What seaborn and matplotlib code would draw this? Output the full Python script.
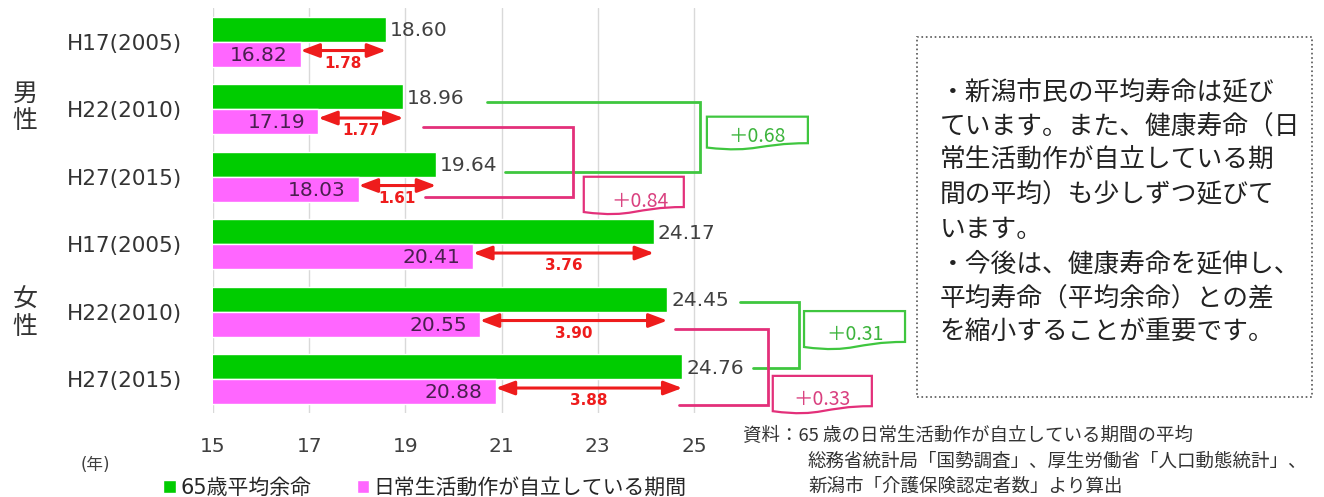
import matplotlib
matplotlib.use('Agg')
import matplotlib.pyplot as plt
import matplotlib.patches as mpatches
from matplotlib.path import Path
import pandas as pd
import seaborn as sns

# chart data
sexes = ['男性', '女性']
years = ['H17(2005)', 'H22(2010)', 'H27(2015)']
life_expectancy = [18.60, 18.96, 19.64, 24.17, 24.45, 24.76]
independent_period = [16.82, 17.19, 18.03, 20.41, 20.55, 20.88]
series_names = ['65歳平均余命', '日常生活動作が自立している期間']
x_ticks = [15, 17, 19, 21, 23, 25]

note_lines = [
    '・新潟市民の平均寿命は延び',
    'ています。また、健康寿命（日',
    '常生活動作が自立している期',
    '間の平均）も少しずつ延びて',
    'います。',
    '・今後は、健康寿命を延伸し、',
    '平均寿命（平均余命）との差',
    'を縮小することが重要です。',
]
source_lines = [
    '資料：65 歳の日常生活動作が自立している期間の平均',
    '総務省統計局「国勢調査」、厚生労働省「人口動態統計」、',
    '新潟市「介護保険認定者数」より算出',
]

GREEN = '#00cc00'
PINK = '#ff66ff'
RED = '#ee1c1c'
BR_GREEN = '#3fc63f'
BR_PINK = '#e3307a'
JP = 'Noto Sans CJK JP'

rows = [f'{s} {y}' for s in sexes for y in years]
df = pd.DataFrame({
    'row': rows * 2,
    'series': [series_names[0]] * len(rows) + [series_names[1]] * len(rows),
    'value': life_expectancy + independent_period,
})

sns.set_theme(style='white')
plt.rcParams['font.family'] = ['DejaVu Sans', JP]

W, H = 1324, 497
fig = plt.figure(figsize=(W / 100, H / 100), dpi=100)
ax = fig.add_axes([213 / W, 1 - 413 / H, (742 - 213) / W, (413 - 8) / H])

sns.barplot(data=df, y='row', x='value', hue='series', hue_order=series_names,
            palette=[GREEN, PINK], orient='h', width=0.74, saturation=1,
            errorbar=None, ax=ax)

ax.set_xlim(15, 26)
ax.set_ylim(5.5, -0.5)
ax.set_xticks(x_ticks)
ax.set_yticks(range(len(rows)))
ax.set_yticklabels(years * 2)
ax.set_xlabel('')
ax.set_ylabel('')
ax.grid(axis='x', color='#d9d9d9', lw=1)
ax.set_axisbelow(True)
for s in ax.spines.values():
    s.set_visible(False)
ax.tick_params(axis='y', length=0, pad=22, labelsize=15.5, labelcolor='#333333')
ax.tick_params(axis='x', length=0, pad=17, labelsize=14.5, labelcolor='#404040')

# value labels, gap arrows
for i, (g, p) in enumerate(zip(life_expectancy, independent_period)):
    ax.text(g + 0.08, i - 0.16, f'{g:.2f}', ha='left', va='center',
            fontsize=14.5, color='#404040')
    ax.text(p - 0.27, i + 0.2, f'{p:.2f}', ha='right', va='center',
            fontsize=14.5, color='#4a1f4f')
    ax.annotate('', xy=(g, i + 0.13), xytext=(p, i + 0.13),
                arrowprops=dict(arrowstyle='<|-|>,head_length=0.8,head_width=0.3',
                                color=RED, lw=2.2, shrinkA=0, shrinkB=0,
                                mutation_scale=14))
    ax.text((g + p) / 2, i + 0.32, f'{g - p:.2f}', ha='center', va='center',
            fontsize=11, fontweight='bold', color=RED)


def bracket(xs, x_vert, ys, color):
    ax.plot([xs[0], x_vert, x_vert, xs[1]], [ys[0], ys[0], ys[1], ys[1]],
            color=color, lw=2, clip_on=False, solid_joinstyle='miter')


def note(x0, x1, y0, y1, text, tx, ty, edge, tcolor):
    w, h = x1 - x0, y1 - y0
    verts = [(x0, y0), (x1, y0), (x1, y0 + 0.802 * h),
             (x0 + 0.5 * w, y0 + 0.802 * h), (x0 + 0.5 * w, y0 + 1.107 * h),
             (x0, y0 + 0.934 * h), (x0, y0)]
    codes = [Path.MOVETO, Path.LINETO, Path.LINETO, Path.CURVE4, Path.CURVE4,
             Path.CURVE4, Path.CLOSEPOLY]
    ax.add_patch(mpatches.PathPatch(Path(verts, codes), fill=False, ec=edge,
                                    lw=1.6, clip_on=False))
    ax.text(tx, ty, text, ha='center', va='center', fontsize=14, color=tcolor,
            family=[JP], clip_on=False)


def change(a, b):
    return f'＋{b - a:.2f}'


# male (rows 1, 2) and female (rows 4, 5) changes
bracket((20.70, 21.07), 25.12, (1 - 0.11, 2 - 0.07), BR_GREEN)
bracket((19.37, 19.41), 22.48, (1 + 0.27, 2 + 0.30), BR_PINK)
bracket((25.96, 26.23), 27.18, (4 - 0.15, 5 - 0.17), BR_GREEN)
bracket((24.60, 24.69), 26.54, (4 + 0.25, 5 + 0.38), BR_PINK)

note(25.27, 27.37, 1.11, 1.60, change(life_expectancy[1], life_expectancy[2]),
     26.31, 1.41, BR_GREEN, '#3cb43c')
note(22.71, 24.79, 2.00, 2.56, change(independent_period[1], independent_period[2]),
     23.88, 2.36, BR_PINK, '#d9407f')
note(27.29, 29.39, 3.99, 4.56, change(life_expectancy[4], life_expectancy[5]),
     28.35, 4.34, BR_GREEN, '#3cb43c')
note(26.64, 28.70, 4.95, 5.51, change(independent_period[4], independent_period[5]),
     27.66, 5.30, BR_PINK, '#d9407f')

# sex group labels
for sex, yc in zip(sexes, [107, 313]):
    fig.text(25 / W, 1 - (yc - 13) / H, sex[0], ha='center', va='center',
             fontsize=18, family=JP, color='#333333')
    fig.text(25 / W, 1 - (yc + 14) / H, sex[1], ha='center', va='center',
             fontsize=18, family=JP, color='#333333')

fig.text(95 / W, 1 - 465 / H, '(年)', ha='center', va='center', fontsize=12,
         color='#404040')

sns.move_legend(ax, 'center', bbox_to_anchor=(425 / W, 1 - 488 / H),
                bbox_transform=fig.transFigure, ncol=2, frameon=False,
                title=None, fontsize=15, handlelength=0.6, handleheight=0.6,
                handletextpad=0.2, columnspacing=2.2)

# note box
fig.add_artist(mpatches.Rectangle((917 / W, 1 - 397 / H), (1312 - 917) / W,
                                  (397 - 37) / H, transform=fig.transFigure,
                                  fill=False, ec='#555555', lw=1.2, ls=':'))
for k, line in enumerate(note_lines):
    fig.text(940 / W, 1 - (92 + 34.4 * k) / H, line, ha='left', va='center',
             fontsize=18.5, family=JP, color='#222222')

for line, x, y in zip(source_lines, [743, 808, 808], [436, 462, 487]):
    fig.text(x / W, 1 - y / H, line, ha='left', va='center', fontsize=13.3,
             family=JP, color='#333333')

fig.savefig('out.png', dpi=100)
